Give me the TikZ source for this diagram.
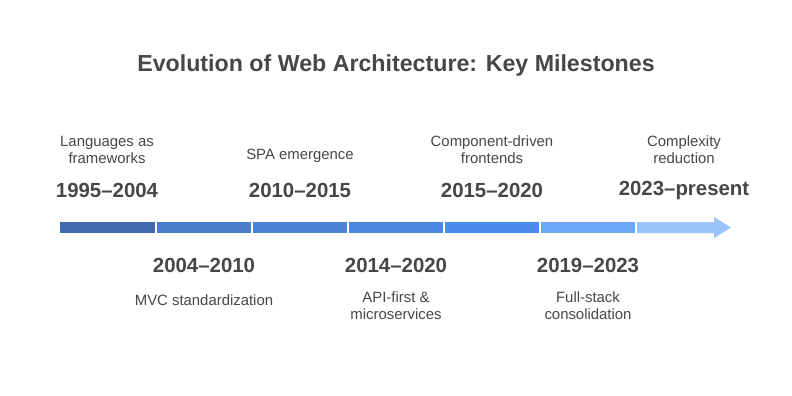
\documentclass[tikz,border=0pt]{standalone}
\usepackage{fontspec}
\setmainfont{Liberation Sans}
\definecolor{ink}{HTML}{474747}
\definecolor{segA}{HTML}{4268AE}
\definecolor{segB}{HTML}{4A7DCB}
\definecolor{segC}{HTML}{4B84D6}
\definecolor{segD}{HTML}{4B87DE}
\definecolor{segE}{HTML}{4B8BEF}
\definecolor{segF}{HTML}{6CA7F9}
\definecolor{segG}{HTML}{9AC3FB}
\tikzset{
  year/.style={text=ink,font=\bfseries\fontsize{20.4}{24}\selectfont,inner sep=0pt},
  note/.style={text=ink,font=\fontsize{14.9}{17}\selectfont,align=center,inner sep=0pt},
}
\begin{document}
\begin{tikzpicture}[x=1pt,y=-1pt]
    \useasboundingbox[fill=white] (0,0) rectangle (792,396);
    \node[text=ink,font=\bfseries\fontsize{23.2}{28}\selectfont] (title) at (396,66){Evolution of Web Architecture: Key Milestones};
    % bar segments
    \fill[segA] (60,222) rectangle (155,233);
    \fill[segB] (157,222) rectangle (251,233);
    \fill[segC] (253,222) rectangle (347,233);
    \fill[segD] (349,222) rectangle (443,233);
    \fill[segE] (445,222) rectangle (539,233);
    \fill[segF] (541,222) rectangle (635,233);
    \fill[segG] (637,222)--(714,222)--(714,217)--(731,227.5)--(714,238)--(714,233)--(637,233)--cycle;
    % upper labels
    \node[year] (y1) at (107,190){1995–2004};
    \node[note] (n1) at (107,150){Languages as\\frameworks};
    \node[year] (y3) at (300,190){2010–2015};
    \node[note] (n3) at (300,156){SPA emergence};
    \node[year] (y5) at (492,190){2015–2020};
    \node[note] (n5) at (492,150){Component-driven\\frontends};
    \node[year] (y7) at (684,190){2023–present};
    \node[note] (n7) at (684,150){Complexity\\reduction};
    % lower labels
    \node[year] (y2) at (204,265){2004–2010};
    \node[note] (n2) at (204,300){MVC standardization};
    \node[year] (y4) at (396,265){2014–2020};
    \node[note] (n4) at (396,306){API-first \&\\microservices};
    \node[year] (y6) at (588,265){2019–2023};
    \node[note] (n6) at (588,306){Full-stack\\consolidation};
\end{tikzpicture}
\end{document}
